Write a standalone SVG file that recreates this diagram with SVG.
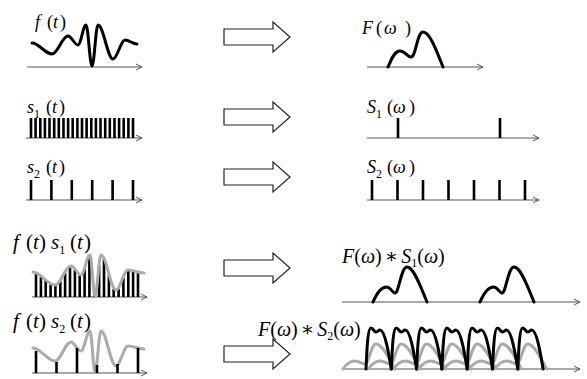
<svg xmlns="http://www.w3.org/2000/svg" xmlns:xlink="http://www.w3.org/1999/xlink" width="587" height="379" viewBox="0 0 587 379">
<style>
text{font-family:"Liberation Serif","Times New Roman","DejaVu Serif",serif;fill:#000}
.i{font-style:italic}
.sub{font-size:12px}
.ax{stroke:#555;stroke-width:1;fill:none;marker-end:url(#ah)}
.blk{stroke:#000;stroke-width:3;fill:none;stroke-linejoin:round;stroke-linecap:round}
.gry{stroke:#aaa;stroke-width:3;fill:none;stroke-linejoin:round;stroke-linecap:round}
.bar{stroke:#000;stroke-width:2.6}
.arr{fill:#fff;stroke:#222;stroke-width:1.2}
</style>
<defs>
<marker id="ah" markerUnits="userSpaceOnUse" markerWidth="8" markerHeight="8" refX="6" refY="4" orient="auto">
<path d="M0,1 L6,4 L0,7" fill="none" stroke="#555" stroke-width="1"/>
</marker>
<path id="bigArrow" class="arr" d="M224,-8 H273 V-15 L290,0 L273,15 V8 H224 Z"/>
<path id="fenv" class="gry" d="M33,272 C40.9,272 47.1,285 55,285 C60.8,285 65.2,266 71,266 C74.6,266 77.4,275 81,275 C84.2,275 86.8,255 90,255 C91.8,255 93.2,296 95,296 C97.2,296 98.8,255 101,255 C106.4,255 110.6,290 116,290 C120.3,290 123.7,270 128,270 C133.8,270 138.2,273 144,273"/>
<path id="fhump" class="blk" d="M373,302 C376,295 380,287 386.5,287 C391,287 392,293 395,293 C399,293 401,267 407,267 C414,267 421,288 427,302"/>
<path id="gcopy" class="gry" d="M0,0 C4,-6 8,-8 12,-8 C16,-8 19,-5 22,-5 C26,-5 28,-25 33,-25 C40,-25 47,-8 52,0"/>
<path id="bhump" class="blk" d="M0,0 C1,-23 2,-41 5,-41 C7,-41 8,-37 10,-37 C12,-37 12,-39 14,-39 C19,-39 23,-14 25.3,0"/>
</defs>

<g id="connectors">
<use xlink:href="#bigArrow" transform="translate(0,37)"/>
<use xlink:href="#bigArrow" transform="translate(0,117)"/>
<use xlink:href="#bigArrow" transform="translate(0,177)"/>
<use xlink:href="#bigArrow" transform="translate(0,268)"/>
<use xlink:href="#bigArrow" transform="translate(0,354)"/>
</g>

<g id="ft">
<text x="35" y="28" font-size="18" font-family="Liberation Serif, serif"><tspan class="i">f</tspan><tspan x="47">(</tspan><tspan x="53" class="i">t</tspan><tspan x="60">)</tspan></text>
<line class="ax" x1="27" y1="67" x2="142" y2="67"/>
<path class="blk" d="M32,43 C39.2,43 44.8,54 52,54 C57.8,54 62.2,36 68,36 C71.6,36 74.4,45 78,45 C80.9,45 83.1,25 86,25 C88.2,25 89.8,66 92,66 C94.2,66 95.8,25 98,25 C103.4,25 107.6,59 113,59 C117.3,59 120.7,40 125,40 C129.3,40 132.7,44 137,44"/>
</g>

<g id="Fw">
<text x="362" y="34" font-size="18" font-family="Liberation Serif, serif"><tspan class="i">F</tspan><tspan x="376">(</tspan><tspan x="384" class="i">ω</tspan><tspan x="405">)</tspan></text>
<line class="ax" x1="367" y1="67" x2="483" y2="67"/>
<path class="blk" d="M388,67 C391,60 394,52 399,51 C405,50 407,57 411,57 C416,57 417,32 423,32 C430,32 437,52 443,67"/>
</g>

<g id="s1t">
<text x="27" y="113" font-size="18" font-family="Liberation Serif, serif"><tspan class="i">s</tspan><tspan class="sub" dy="5">1</tspan><tspan x="46" dy="-5">(</tspan><tspan x="52" class="i">t</tspan><tspan x="59">)</tspan></text>
<line class="ax" x1="26" y1="138" x2="142" y2="138"/>
<path class="bar" d="M31,118V138M35.6,118V138M40.3,118V138M44.9,118V138M49.5,118V138M54.2,118V138M58.8,118V138M63.5,118V138M68.1,118V138M72.7,118V138M77.4,118V138M82,118V138M86.6,118V138M91.3,118V138M95.9,118V138M100.5,118V138M105.2,118V138M109.8,118V138M114.5,118V138M119.1,118V138M123.7,118V138M128.4,118V138M133,118V138"/>
</g>

<g id="S1w">
<text x="367" y="113" font-size="18" font-family="Liberation Serif, serif"><tspan class="i">S</tspan><tspan class="sub" dy="5">1</tspan><tspan x="387" dy="-5">(</tspan><tspan x="393" class="i">ω</tspan><tspan x="409">)</tspan></text>
<line class="ax" x1="367" y1="138" x2="539" y2="138"/>
<path class="bar" d="M398,118V138M500,118V138"/>
</g>

<g id="s2t">
<text x="27" y="173" font-size="18" font-family="Liberation Serif, serif"><tspan class="i">s</tspan><tspan class="sub" dy="5">2</tspan><tspan x="46" dy="-5">(</tspan><tspan x="52" class="i">t</tspan><tspan x="59">)</tspan></text>
<line class="ax" x1="26" y1="200" x2="142" y2="200"/>
<path class="bar" d="M31,180V200M51.4,180V200M71.8,180V200M92.2,180V200M112.6,180V200M133,180V200"/>
</g>

<g id="S2w">
<text x="367" y="173" font-size="18" font-family="Liberation Serif, serif"><tspan class="i">S</tspan><tspan class="sub" dy="5">2</tspan><tspan x="387" dy="-5">(</tspan><tspan x="393" class="i">ω</tspan><tspan x="409">)</tspan></text>
<line class="ax" x1="367" y1="200" x2="539" y2="200"/>
<path class="bar" d="M372,180V200M397.5,180V200M423,180V200M448.5,180V200M474,180V200M499.5,180V200M525,180V200"/>
</g>

<g id="fs1">
<text x="13" y="249" font-size="21" font-family="Liberation Serif, serif"><tspan class="i">f</tspan><tspan x="26">(</tspan><tspan x="33" class="i">t</tspan><tspan x="39">)</tspan><tspan x="51" class="i">s</tspan><tspan class="sub" font-size="14" dy="5">1</tspan><tspan x="70" dy="-5">(</tspan><tspan x="77" class="i">t</tspan><tspan x="84">)</tspan></text>
<line class="ax" x1="32" y1="297" x2="147" y2="297"/>
<path class="bar" d="M36,273.6V297M40.9,276.7V297M45.7,279.2V297M50.6,284.8V297M55.4,286V297M60.3,281.3V297M65.1,272.7V297M70,267.2V297M74.9,270V297M79.7,275.6V297M84.6,269.1V297M89.4,256.2V297M94.3,293V297M99.1,265.6V297M104,259.3V297M108.9,275V297M113.7,289V297M118.6,288.8V297M123.4,277.4V297M128.3,271V297M133.1,271.7V297M138,273.1V297"/>
<use xlink:href="#fenv"/>
</g>

<g id="FS1">
<text x="342" y="263" font-size="20" font-family="Liberation Serif, serif"><tspan class="i">F</tspan>(<tspan class="i">ω</tspan>)<tspan dx="3">∗</tspan><tspan dx="3" class="i">S</tspan><tspan class="sub" dy="4">1</tspan><tspan dy="-4">(</tspan><tspan class="i">ω</tspan>)</text>
<line class="ax" x1="342" y1="302" x2="580" y2="302"/>
<use xlink:href="#fhump"/>
<use xlink:href="#fhump" transform="translate(107,0)"/>
</g>

<g id="fs2">
<text x="13" y="328" font-size="21" font-family="Liberation Serif, serif"><tspan class="i">f</tspan><tspan x="26">(</tspan><tspan x="33" class="i">t</tspan><tspan x="39">)</tspan><tspan x="51" class="i">s</tspan><tspan class="sub" font-size="14" dy="5">2</tspan><tspan x="70" dy="-5">(</tspan><tspan x="77" class="i">t</tspan><tspan x="84">)</tspan></text>
<line class="ax" x1="32" y1="373" x2="147" y2="373"/>
<use xlink:href="#fenv" transform="translate(0,76)"/>
<path class="bar" d="M36,351V373M56.5,362V373M77,348V373M97,365V373M117.5,364V373M138,348V373"/>
</g>

<g id="FS2">
<text x="258" y="336" font-size="20" font-family="Liberation Serif, serif"><tspan class="i">F</tspan>(<tspan class="i">ω</tspan>)<tspan dx="3">∗</tspan><tspan dx="3" class="i">S</tspan><tspan class="sub" dy="4">2</tspan><tspan dy="-4">(</tspan><tspan class="i">ω</tspan>)</text>
<line class="ax" x1="342" y1="369" x2="580" y2="369"/>
<use xlink:href="#gcopy" transform="translate(343,369)"/>
<use xlink:href="#gcopy" transform="translate(368.3,369)"/>
<use xlink:href="#gcopy" transform="translate(393.6,369)"/>
<use xlink:href="#gcopy" transform="translate(418.9,369)"/>
<use xlink:href="#gcopy" transform="translate(444.2,369)"/>
<use xlink:href="#gcopy" transform="translate(469.5,369)"/>
<use xlink:href="#gcopy" transform="translate(494.8,369)"/>
<use xlink:href="#bhump" transform="translate(366,369)"/>
<use xlink:href="#bhump" transform="translate(391.3,369)"/>
<use xlink:href="#bhump" transform="translate(416.6,369)"/>
<use xlink:href="#bhump" transform="translate(441.9,369)"/>
<use xlink:href="#bhump" transform="translate(467.2,369)"/>
<use xlink:href="#bhump" transform="translate(492.5,369)"/>
<use xlink:href="#bhump" transform="translate(517.8,369)"/>
</g>
</svg>
